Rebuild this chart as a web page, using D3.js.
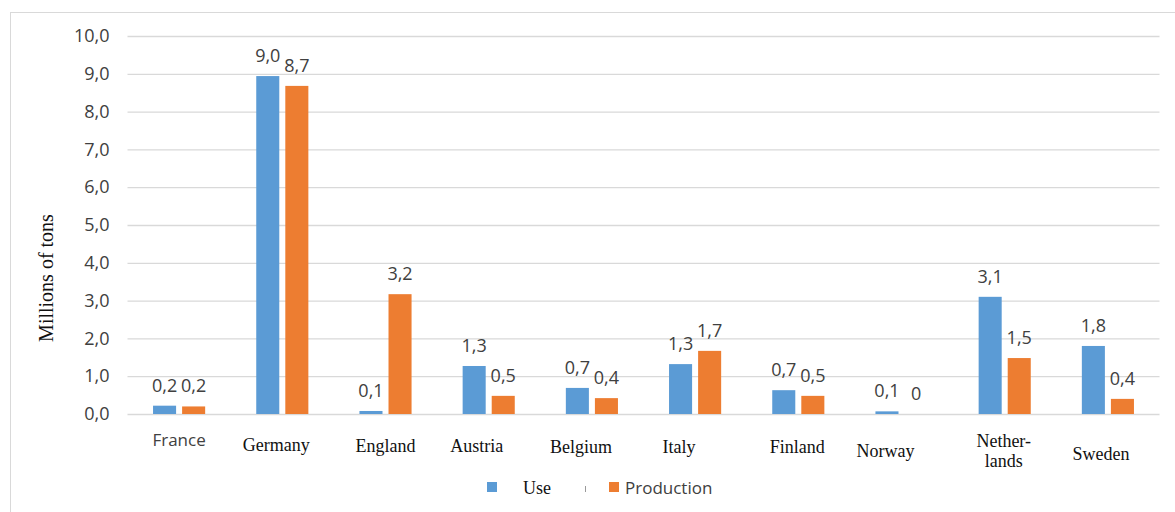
<!DOCTYPE html>
<html>
<head>
<meta charset="utf-8">
<script src="https://cdn.jsdelivr.net/npm/d3@7"></script>
<style>
    body { margin: 0; background: #fff; }
    svg { display: block; }
</style>
</head>
<body>
<div id="svgContainer"></div>
<script>
const countries = ["France", "Germany", "England", "Austria", "Belgium", "Italy", "Finland", "Norway", "Nether-|lands", "Sweden"];
const useValues = [0.22, 8.94, 0.08, 1.27, 0.69, 1.32, 0.63, 0.07, 3.1, 1.8];
const productionValues = [0.2, 8.68, 3.17, 0.48, 0.42, 1.67, 0.48, 0, 1.48, 0.4];
const useLabels = ["0,2", "9,0", "0,1", "1,3", "0,7", "1,3", "0,7", "0,1", "3,1", "1,8"];
const productionLabels = ["0,2", "8,7", "3,2", "0,5", "0,4", "1,7", "0,5", "0", "1,5", "0,4"];
const yTicks = [0, 1, 2, 3, 4, 5, 6, 7, 8, 9, 10];
const seriesNames = ["Use", "Production"];

class BarChartView {

    constructor() {
        this._width = 1175;
        this._height = 512;
        // the category labels in the original sit a bit off their groups
        this._labelNudge = {
            "France": [0, 446], "Germany": [-6, 451], "England": [0, 452],
            "Austria": [-12, 452], "Belgium": [-11, 453], "Italy": [-16, 453],
            "Finland": [-1, 453], "Norway": [-16, 457], "Nether-|lands": [-1, 447],
            "Sweden": [-7, 460]
        };
        this._initSVG()
            ._initScales()
            ._drawFrame()
            ._drawGrid()
            ._drawBars()
            ._drawCategoryLabels()
            ._drawLegend();
    }

    _initSVG() {
        this._svg = d3.select("#svgContainer").append("svg")
            .attr("width", this._width)
            .attr("height", this._height)
            .attr("viewBox", "0 0 " + this._width + " " + this._height);
        return this;
    }

    _initScales() {
        this._x0 = d3.scaleBand()
            .domain(countries)
            .range([127.5, 1159.5])
            .paddingInner(0.495)
            .paddingOuter(0.2475);
        this._x1 = d3.scaleBand()
            .domain(seriesNames)
            .range([0, this._x0.bandwidth()])
            .paddingInner(0.207);
        this._y = d3.scaleLinear()
            .domain([0, 10])
            .range([414, 36]);
        this._colors = d3.scaleOrdinal()
            .domain(seriesNames)
            .range(["#5b9bd5", "#ed7d31"]);
        return this;
    }

    _drawFrame() {
        this._svg.append("rect")
            .attr("x", 10.5)
            .attr("y", 12.5)
            .attr("width", 1200)
            .attr("height", 600)
            .attr("fill", "none")
            .attr("stroke", "#d9d9d9");
        return this;
    }

    _drawGrid() {
        const axis = d3.axisLeft(this._y)
            .tickValues(yTicks)
            .tickSize(-(1159.5 - 127.5))
            .tickPadding(18)
            .tickFormat(d => d3.format(".1f")(d).replace(".", ","));
        const g = this._svg.append("g")
            .attr("transform", "translate(127.5,0)")
            .call(axis);
        g.select(".domain").remove();
        g.selectAll(".tick line")
            .attr("stroke", "#d9d9d9")
            .attr("stroke-width", 1.3);
        g.selectAll(".tick text")
            .attr("font-family", "'Open Sans', sans-serif")
            .attr("font-size", 18)
            .attr("fill", "#404040");

        this._svg.append("text")
            .attr("transform", "translate(53,278) rotate(-90)")
            .attr("text-anchor", "middle")
            .attr("font-family", "'Liberation Serif', serif")
            .attr("font-size", 20)
            .attr("fill", "#111")
            .text("Millions of tons");
        return this;
    }

    _drawBars() {
        const rows = countries.map((c, i) => ({
            country: c,
            items: [
                { series: "Use", value: useValues[i], label: useLabels[i] },
                { series: "Production", value: productionValues[i], label: productionLabels[i] }
            ]
        }));

        const groups = this._svg.append("g")
            .attr("id", "bars")
            .selectAll("g")
            .data(rows)
            .enter().append("g")
            .attr("transform", d => "translate(" + this._x0(d.country) + ",0)");

        groups.selectAll("rect")
            .data(d => d.items)
            .enter().append("rect")
            .attr("x", d => this._x1(d.series))
            .attr("y", d => this._y(d.value))
            .attr("width", this._x1.bandwidth())
            .attr("height", d => this._y(0) - this._y(d.value))
            .attr("fill", d => this._colors(d.series));

        groups.selectAll("text")
            .data(d => d.items)
            .enter().append("text")
            .attr("x", d => this._x1(d.series) + this._x1.bandwidth() / 2)
            .attr("y", d => this._y(d.value) - 14)
            .attr("text-anchor", "middle")
            .attr("font-family", "'Open Sans', sans-serif")
            .attr("font-size", 18)
            .attr("fill", "#404040")
            .text(d => d.label);
        return this;
    }

    _drawCategoryLabels() {
        const nudge = this._labelNudge;
        const labels = this._svg.append("g")
            .attr("id", "categories")
            .attr("text-anchor", "middle")
            .selectAll("text")
            .data(countries)
            .enter().append("text")
            .attr("x", d => this._x0(d) + this._x0.bandwidth() / 2 + nudge[d][0])
            .attr("y", d => nudge[d][1])
            .attr("font-family", d => d === "France" ? "'Open Sans', sans-serif" : "'Liberation Serif', serif")
            .attr("font-size", d => d === "France" ? 17 : 18)
            .attr("fill", d => d === "France" ? "#404040" : "#111");

        labels.each(function (d) {
            const parts = d.split("|");
            const t = d3.select(this);
            const x = t.attr("x");
            parts.forEach((p, i) => {
                t.append("tspan")
                    .attr("x", x)
                    .attr("dy", i === 0 ? 0 : 20)
                    .text(p);
            });
        });
        return this;
    }

    _drawLegend() {
        const legend = this._svg.append("g").attr("id", "legend");

        legend.append("rect")
            .attr("x", 487).attr("y", 482)
            .attr("width", 10).attr("height", 10)
            .attr("fill", this._colors("Use"));
        legend.append("text")
            .attr("x", 523).attr("y", 494)
            .attr("font-family", "'Liberation Serif', serif")
            .attr("font-size", 18)
            .attr("fill", "#111")
            .text("Use");

        // little mark left behind between the entries
        legend.append("line")
            .attr("x1", 585.5).attr("x2", 585.5)
            .attr("y1", 486).attr("y2", 492)
            .attr("stroke", "#9a9a9a");

        legend.append("rect")
            .attr("x", 609).attr("y", 482)
            .attr("width", 10).attr("height", 10)
            .attr("fill", this._colors("Production"));
        legend.append("text")
            .attr("x", 625).attr("y", 494)
            .attr("font-family", "'Open Sans', sans-serif")
            .attr("font-size", 17)
            .attr("fill", "#404040")
            .text("Production");
        return this;
    }
}

new BarChartView();
</script>
</body>
</html>
